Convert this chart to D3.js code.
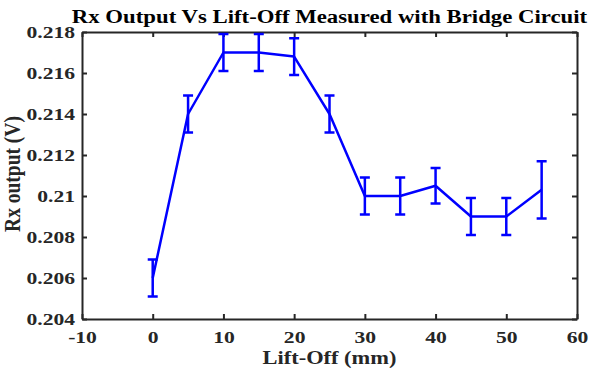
<!DOCTYPE html>
<html>
<head>
<meta charset="utf-8">
<script src="https://cdn.jsdelivr.net/npm/d3@7"></script>
<style>
  body { margin: 0; background: #fff; }
  svg text { font-family: "Liberation Serif", "Times New Roman", serif; font-weight: bold; fill: #262626; }
</style>
</head>
<body>
<svg width="591" height="374"></svg>
<script>
// lift-off in mm
var liftOff = [0, 5, 10, 15, 20, 25, 30, 35, 40, 45, 50, 55];
// Rx output (V)
var rxOutput = [0.206, 0.214, 0.217, 0.217, 0.2168, 0.214, 0.210, 0.210, 0.2105, 0.209, 0.209, 0.2103];
// error bar half-widths (V)
var rxError = [0.0009, 0.0009, 0.0009, 0.0009, 0.0009, 0.0009, 0.0009, 0.0009, 0.00087, 0.0009, 0.0009, 0.0014];

var xTicks = [-10, 0, 10, 20, 30, 40, 50, 60];
var yTicks = [0.204, 0.206, 0.208, 0.21, 0.212, 0.214, 0.216, 0.218];

var svg = d3.select("svg"),
    mLeft = 82, mRight = 577, mTop = 32, mBottom = 319,
    stretch = 1.15,     // the picture looks widened horizontally
    tickStretch = 1.27; // tick labels even more so

var x = d3.scaleLinear().domain([-10, 60]).range([mLeft, mRight]);
var y = d3.scaleLinear().domain([0.204, 0.218]).range([mBottom, mTop]);

var data = liftOff.map(function(d, i) {
  return {x: d, y: rxOutput[i], e: rxError[i]};
});

var axisColor = "#262626";
function styleAxis(g) {
  g.select(".domain").attr("stroke", axisColor).attr("stroke-width", 2);
  g.selectAll(".tick line").attr("stroke", axisColor).attr("stroke-width", 2);
  g.selectAll(".tick text").attr("fill", axisColor);
}

// axes with ticks inside the box
svg.append("g")
    .attr("transform", "translate(0," + mBottom + ")")
    .call(d3.axisBottom(x).tickValues(xTicks).tickSize(-5).tickPadding(12)
      .tickFormat(function(d) { return String(d); }).tickSizeOuter(0))
    .call(styleAxis)
    .selectAll("text")
      .style("font-size", "17px")
      .attr("transform", "scale(" + tickStretch + ",1)");

svg.append("g")
    .attr("transform", "translate(0," + mTop + ")")
    .call(d3.axisTop(x).tickValues(xTicks).tickSize(-5).tickFormat("").tickSizeOuter(0))
    .call(styleAxis);

svg.append("g")
    .attr("transform", "translate(" + mLeft + ",0)")
    .call(d3.axisLeft(y).tickValues(yTicks).tickSize(-5).tickPadding(5.5)
      .tickFormat(function(d) { return String(d); }).tickSizeOuter(0))
    .call(styleAxis)
    .selectAll("text")
      .style("font-size", "17px")
      .attr("dy", "0.3em")
      .attr("transform", "scale(" + tickStretch + ",1)");

svg.append("g")
    .attr("transform", "translate(" + mRight + ",0)")
    .call(d3.axisRight(y).tickValues(yTicks).tickSize(-5).tickFormat("").tickSizeOuter(0))
    .call(styleAxis);

// error bars
var bars = svg.append("g").attr("stroke", "#0000ff").attr("stroke-width", 2.5).attr("fill", "none");
bars.selectAll(".ebar")
    .data(data)
  .enter().append("path")
    .attr("class", "ebar")
    .attr("d", function(d) {
      var cx = x(d.x), y0 = y(d.y - d.e), y1 = y(d.y + d.e), w = 5;
      return "M" + cx + "," + y0 + "V" + y1
           + "M" + (cx - w) + "," + y1 + "H" + (cx + w)
           + "M" + (cx - w) + "," + y0 + "H" + (cx + w);
    });

// line
svg.append("path")
    .datum(data)
    .attr("fill", "none")
    .attr("stroke", "#0000ff")
    .attr("stroke-width", 2.5)
    .attr("stroke-linejoin", "round")
    .attr("d", d3.line().x(function(d) { return x(d.x); }).y(function(d) { return y(d.y); }));

// title and labels (rotated one is widened across, not along)
function label(tx, ty, rot, text, color, size) {
  svg.append("g")
      .attr("transform", "translate(" + tx + "," + ty + ")" +
        (rot ? " rotate(-90) scale(1," + stretch + ")" : " scale(" + stretch + ",1)"))
    .append("text")
      .attr("text-anchor", "middle")
      .style("font-size", size + "px")
      .style("fill", color)
      .text(text);
}

label((mLeft + mRight) / 2, 23, false, "Rx Output Vs Lift-Off Measured with Bridge Circuit", "#000", 19.8);
label((mLeft + mRight) / 2, 364, false, "Lift-Off (mm)", "#262626", 19.5);
label(20, 174, true, "Rx output (V)", "#262626", 19.5);
</script>
</body>
</html>
